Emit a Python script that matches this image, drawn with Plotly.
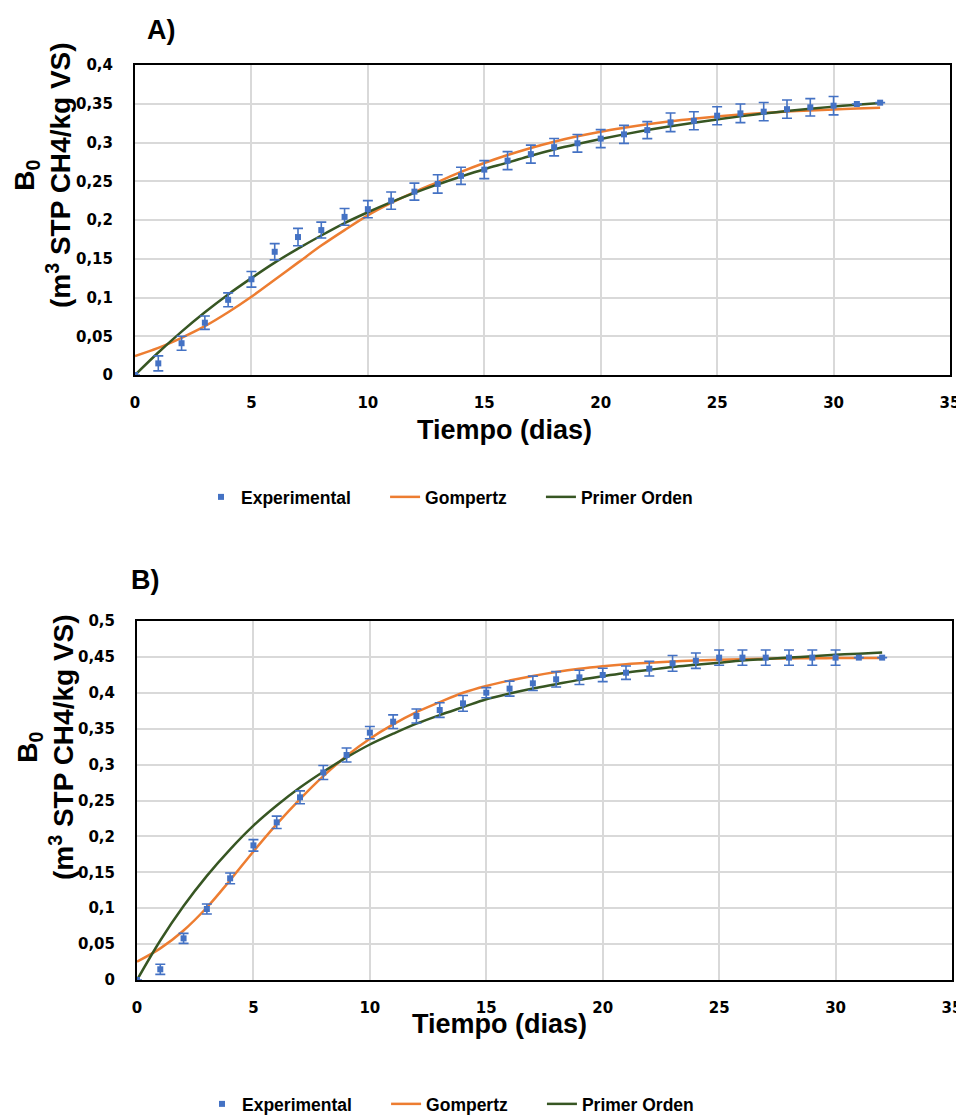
import plotly.graph_objects as go

days = list(range(33))
x_ticks = [0, 5, 10, 15, 20, 25, 30, 35]

# ---- Panel A ----
expA = [0, 0.015, 0.041, 0.0675, 0.097, 0.1235, 0.159, 0.178, 0.187, 0.204, 0.214,
        0.225, 0.2366, 0.2465, 0.257, 0.265, 0.2766, 0.285, 0.294, 0.299, 0.305,
        0.3105, 0.316, 0.326, 0.328, 0.3346, 0.3376, 0.3398, 0.343, 0.3454, 0.3475,
        0.3497, 0.3514]
errA = [0, 0.0097, 0.009, 0.0086, 0.009, 0.0101, 0.0105, 0.0112, 0.0103, 0.0108, 0.011,
        0.0112, 0.011, 0.0118, 0.011, 0.0116, 0.0116, 0.0116, 0.0112, 0.0114, 0.0116,
        0.0116, 0.011, 0.012, 0.0116, 0.0116, 0.012, 0.0118, 0.0118, 0.0112, 0.0118,
        0, 0]
gompA = [0.0245, 0.035, 0.048, 0.063, 0.081, 0.101, 0.123, 0.145, 0.167, 0.187, 0.206,
         0.222, 0.236, 0.249, 0.262, 0.2735, 0.2838, 0.293, 0.301, 0.308, 0.314,
         0.319, 0.3235, 0.3274, 0.3307, 0.3336, 0.336, 0.3381, 0.3399, 0.3414, 0.3427,
         0.3438, 0.3447]
firstA = [0, 0.029, 0.056, 0.081, 0.104, 0.125, 0.145, 0.163, 0.180, 0.196, 0.210,
          0.223, 0.235, 0.246, 0.256, 0.2655, 0.274, 0.283, 0.291, 0.298, 0.3045,
          0.3105, 0.316, 0.321, 0.3255, 0.3298, 0.3337, 0.3373, 0.3406, 0.3436, 0.3463,
          0.3488, 0.3511]

# ---- Panel B ----
expB = [0, 0.0149, 0.058, 0.0989, 0.1416, 0.1875, 0.2196, 0.2544, 0.289, 0.3134, 0.3445,
        0.3598, 0.3677, 0.376, 0.3853, 0.4002, 0.4058, 0.4132, 0.4188, 0.4215, 0.4248,
        0.428, 0.4336, 0.441, 0.4447, 0.449, 0.449, 0.449, 0.449, 0.449, 0.449,
        0.449, 0.449]
errB = [0, 0.007, 0.007, 0.007, 0.0075, 0.008, 0.0086, 0.009, 0.0097, 0.0097, 0.0086,
        0.0095, 0.0097, 0.0102, 0.011, 0.007, 0.0105, 0.01, 0.0107, 0.01, 0.0093,
        0.0093, 0.0102, 0.011, 0.0107, 0.0107, 0.0107, 0.0107, 0.0107, 0.0107, 0.0107,
        0, 0]
gompB = [0.0255, 0.044, 0.069, 0.101, 0.139, 0.179, 0.217, 0.252, 0.284, 0.312, 0.336,
         0.356, 0.373, 0.387, 0.400, 0.4095, 0.417, 0.4235, 0.429, 0.4335, 0.437,
         0.4398, 0.442, 0.4437, 0.445, 0.446, 0.4468, 0.4474, 0.4478, 0.4481, 0.4483,
         0.4485, 0.4486]
firstB = [0, 0.055, 0.103, 0.145, 0.182, 0.215, 0.243, 0.268, 0.290, 0.310, 0.328,
          0.343, 0.357, 0.369, 0.380, 0.391, 0.399, 0.406, 0.412, 0.418, 0.423,
          0.428, 0.432, 0.436, 0.439, 0.442, 0.445, 0.447, 0.449, 0.451, 0.453,
          0.4545, 0.456]

names = ["Experimental", "Gompertz", "Primer Orden"]
PAD = "&nbsp;" * 6
BLUE = "#4472C4"
ORANGE = "#ED7D31"
GREEN = "#375623"

# page offset of the figure (default body margin) -> work in screen pixels
OFF = 8
FW, FH = 964 - OFF, 1115 - OFF

def px(x):
    return (x - OFF) / FW

def py(y):
    return 1 - (y - OFF) / FH

fig = go.Figure()

def add_panel(xa, ya, leg, exp, err, gomp, first):
    fig.add_trace(go.Scatter(x=days, y=gomp, mode="lines", name=names[1] + PAD,
                             line=dict(color=ORANGE, width=2.5, shape="spline"),
                             xaxis=xa, yaxis=ya, legend=leg, legendrank=2))
    fig.add_trace(go.Scatter(x=days, y=first, mode="lines", name=names[2],
                             line=dict(color=GREEN, width=2.5, shape="spline"),
                             xaxis=xa, yaxis=ya, legend=leg, legendrank=3))
    fig.add_trace(go.Scatter(x=days, y=exp, mode="markers", name=names[0] + PAD,
                             marker=dict(color=BLUE, symbol="square", size=6),
                             error_y=dict(type="data", array=err, color=BLUE,
                                          thickness=1.6, width=5),
                             xaxis=xa, yaxis=ya, legend=leg, legendrank=1))

add_panel("x", "y", "legend", expA, errA, gompA, firstA)
add_panel("x2", "y2", "legend2", expB, errB, gompB, firstB)

tickfont = dict(family="DejaVu Sans", size=15, color="#000000", weight="bold")
grid = "#d9d9d9"

def xaxis_cfg(domain, anchor):
    return dict(domain=domain, anchor=anchor, range=[0, 35], tickvals=x_ticks,
                showgrid=True, gridcolor=grid, gridwidth=1.5, zeroline=False,
                showline=True, linecolor="#000000", linewidth=2, mirror=True,
                ticks="outside", ticklen=13, tickcolor="rgba(0,0,0,0)",
                tickfont=tickfont)

def yaxis_cfg(domain, anchor, top):
    return dict(domain=domain, anchor=anchor, range=[0, top], dtick=0.05, tick0=0,
                showgrid=True, gridcolor=grid, gridwidth=1.5, zeroline=False,
                showline=True, linecolor="#000000", linewidth=2, mirror=True,
                ticks="outside", ticklen=17, tickcolor="rgba(0,0,0,0)",
                tickfont=tickfont)

title_font = dict(family="Liberation Sans", size=27, color="#000000", weight="bold")
ytitle_font = dict(family="Liberation Sans", size=28, color="#000000", weight="bold")
legend_font = dict(family="Liberation Sans", size=17.5, color="#000000", weight="bold")
ytitle = "B<sub>0</sub><br>(m<sup>3</sup> STP CH4/kg VS)"

fig.update_layout(
    width=FW, height=FH,
    margin=dict(l=0, r=0, t=0, b=0, autoexpand=False),
    paper_bgcolor="white", plot_bgcolor="white",
    separators=",.",
    xaxis=xaxis_cfg([px(135), px(950)], "y"),
    yaxis=yaxis_cfg([py(375), py(65)], "x", 0.4),
    xaxis2=xaxis_cfg([px(137), px(952)], "y2"),
    yaxis2=yaxis_cfg([py(980), py(621)], "x2", 0.5),
    legend=dict(orientation="h", x=px(201), xanchor="left", y=py(497), yanchor="middle",
                font=legend_font, bgcolor="rgba(0,0,0,0)"),
    legend2=dict(orientation="h", x=px(202), xanchor="left", y=py(1104), yanchor="middle",
                 font=legend_font, bgcolor="rgba(0,0,0,0)"),
    annotations=[
        dict(text="A)", x=px(161), y=py(30), xref="paper", yref="paper",
             showarrow=False, font=title_font, xanchor="center", yanchor="middle"),
        dict(text="B)", x=px(145), y=py(580), xref="paper", yref="paper",
             showarrow=False, font=title_font, xanchor="center", yanchor="middle"),
        dict(text=ytitle, x=px(42), y=py(175), xref="paper", yref="paper",
             showarrow=False, textangle=-90, font=ytitle_font, align="center",
             xanchor="center", yanchor="middle"),
        dict(text=ytitle, x=px(45), y=py(747), xref="paper", yref="paper",
             showarrow=False, textangle=-90, font=ytitle_font, align="center",
             xanchor="center", yanchor="middle"),
        dict(text="Tiempo (dias)", x=px(504), y=py(430), xref="paper", yref="paper",
             showarrow=False, font=title_font, xanchor="center", yanchor="middle"),
        dict(text="Tiempo (dias)", x=px(500), y=py(1024), xref="paper", yref="paper",
             showarrow=False, font=title_font, xanchor="center", yanchor="middle"),
    ],
)

fig.write_html("out.html")
